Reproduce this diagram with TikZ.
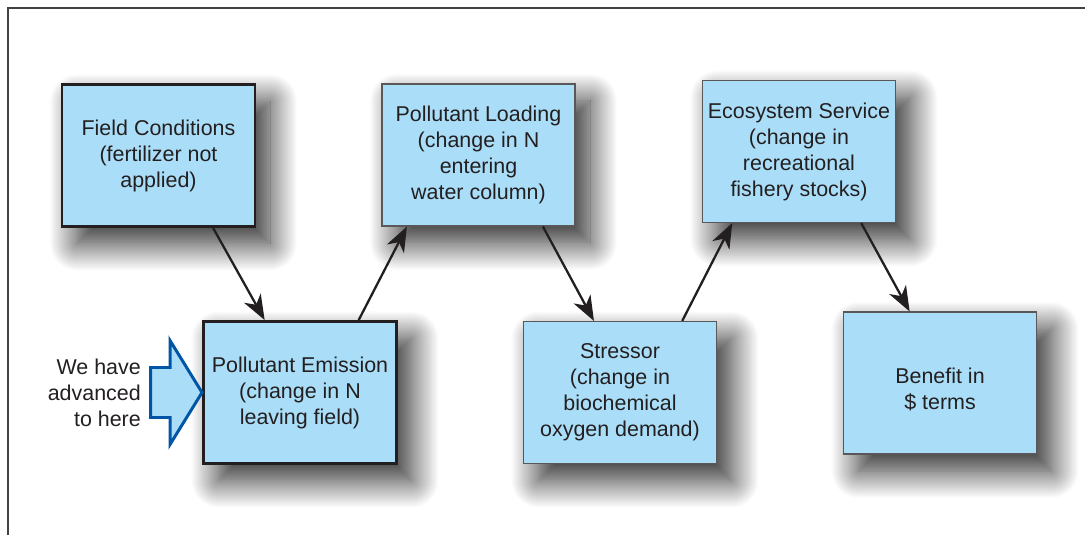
\documentclass[tikz,border=0pt]{standalone}
\usepackage{fontspec}
\setmainfont{Liberation Sans}
\usetikzlibrary{arrows.meta,shadows.blur,calc}
\definecolor{boxblue}{RGB}{170,222,248}
\definecolor{arrowblue}{RGB}{0,86,166}
\definecolor{ink}{RGB}{35,31,32}
\begin{document}
\begin{tikzpicture}[font=\fontsize{12.2}{14.8}\selectfont,text=ink,
box/.style={draw=ink!75,line width=0.6pt,fill=boxblue,align=center,inner sep=0pt,minimum width=\kbw cm,minimum height=\kbh cm,blur shadow={shadow xshift=0.3cm,shadow yshift=-0.34cm,shadow blur radius=0.55cm,shadow blur steps=30,shadow opacity=85}},
heavy/.style={draw=ink,line width=1.7pt},
link/.style={draw=ink,line width=1.3pt,-{Stealth[length=0.5cm,width=0.38cm,inset=0.15cm]}},
herearrow/.style={draw=arrowblue,line width=1.7pt,fill=boxblue,line join=miter}]
\pgfmathsetmacro{\kbw}{3.86}
\pgfmathsetmacro{\kbh}{2.84}
\useasboundingbox(0,0)rectangle(21.7,10.7);
\draw[line width=0.04cm,ink!85](0.16,0)--(0.16,10.53)--(21.7,10.53);
\node[box,heavy](field)at(3.17,7.59){Field Conditions\\(fertilizer not\\applied)};
\node[box,heavy](emission)at(6.0,2.85){Pollutant Emission\\(change in N\\leaving field)};
\foreach \bn/\bx/\by/\btxt in {loading/9.57/7.6/{Pollutant Loading\\(change in N\\entering\\water column)},stressor/12.4/2.85/{Stressor\\(change in\\biochemical\\oxygen demand)},service/15.98/7.67/{Ecosystem Service\\(change in\\recreational\\fishery stocks)},benefit/18.8/3.04/{\raisebox{-4.5pt}[\height][\depth]{\begin{tabular}{@{}c@{}}Benefit in\\\$ terms\end{tabular}}}}{\node[box](\bn)at(\bx,\by){\btxt};}
\draw[link](field.-53)--(emission.116);
\draw[link](emission.51)--(loading.225);
\draw[link](loading.-48)--(stressor.110);
\draw[link](stressor.49)--(service.-133);
\draw[link](service.-49)--(benefit.113);
\draw[herearrow](emission.west)--++(-0.64,1.04)--++(0,-0.54)--++(-0.39,0)--++(0,-1.0)--++(0.39,0)--++(0,-0.54)--cycle;
\node[align=right,anchor=east](note)at($(emission.west)+(-1.1,0)$){We have\\advanced\\to here};
\end{tikzpicture}
\end{document}
